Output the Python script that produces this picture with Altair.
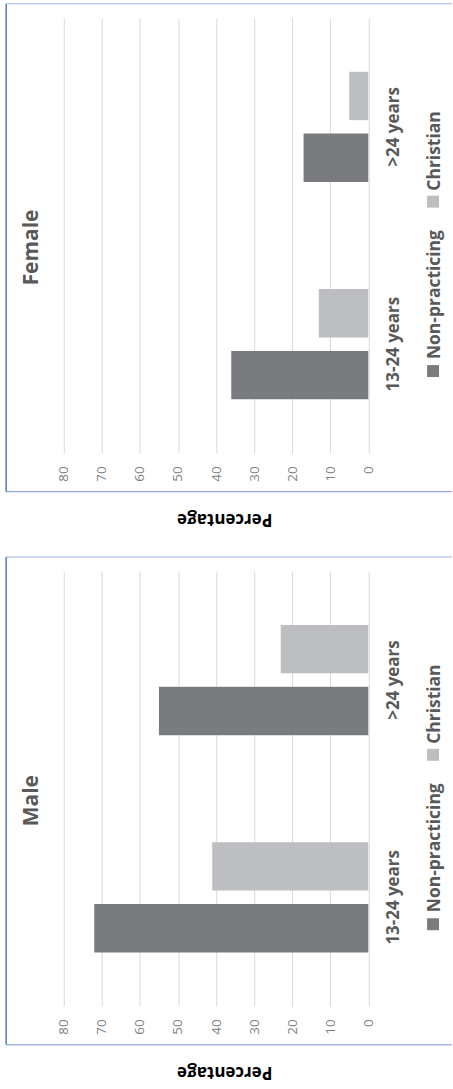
import altair as alt
import pandas as pd

# ---- data ----
categories = ["13-24 years", ">24 years"]
series = ["Non-practicing", "Christian"]
female_nonpracticing = [36, 17]
female_christian = [13, 5]
male_nonpracticing = [72, 55]
male_christian = [41, 23]
tick_values = [0, 10, 20, 30, 40, 50, 60, 70, 80]

DARK = "#7a7b7f"
LIGHT = "#bdbec1"
TEXT = "#595959"
TICK = "#7f7f7f"
GRID = "#d9d9d9"
FONT = "Open Sans"

W, H = 305.5, 436


def long_df(np_vals, chr_vals):
    rows = []
    for c, a, b in zip(categories, np_vals, chr_vals):
        rows.append({"age": c, "series": series[0], "value": a})
        rows.append({"age": c, "series": series[1], "value": b})
    return pd.DataFrame(rows)


def panel(title, np_vals, chr_vals):
    df = long_df(np_vals, chr_vals)
    bars = alt.Chart(df).mark_bar().encode(
        x=alt.X("value:Q",
                scale=alt.Scale(domain=[0, 80], reverse=True, nice=False, zero=True),
                axis=alt.Axis(values=tick_values, title=None, orient="bottom",
                              labelAngle=270, labelAlign="right", labelBaseline="middle",
                              labelPadding=13, labelFontSize=13.5, labelColor=TICK,
                              labelFont=FONT, grid=True, gridColor=GRID, gridWidth=1,
                              domain=False, ticks=False, tickSize=0)),
        y=alt.Y("age:N", sort=[">24 years", "13-24 years"],
                scale=alt.Scale(paddingInner=0.493, paddingOuter=0.2465),
                axis=alt.Axis(orient="right", title=None, labelAngle=270,
                              labelAlign="center", labelBaseline="top",
                              labelPadding=17, labelFontSize=17, labelFontWeight="bold",
                              labelColor=TEXT, labelFont=FONT, domain=False,
                              ticks=False, tickSize=0, grid=False)),
        yOffset=alt.YOffset("series:N", sort=["Christian", "Non-practicing"],
                            scale=alt.Scale(paddingInner=0.218, paddingOuter=0)),
        color=alt.Color("series:N", scale=alt.Scale(domain=series, range=[DARK, LIGHT]),
                        legend=None),
    )

    one = pd.DataFrame({"t": [title]})
    title_txt = alt.Chart(one).mark_text(
        angle=270, align="center", baseline="middle", font=FONT, fontSize=21,
        fontWeight="bold", color=TEXT
    ).encode(x=alt.value(-31.5), y=alt.value(230), text="t:N")

    pct = alt.Chart(pd.DataFrame({"t": ["Percentage"]})).mark_text(
        angle=180, align="center", baseline="middle", font=FONT, fontSize=17,
        fontWeight="bold", color="#000000"
    ).encode(x=alt.value(161.5), y=alt.value(502), text="t:N")

    # legend (drawn manually because the whole chart is rotated)
    leg_df = pd.DataFrame({"series": series})
    sw_np = alt.Chart(leg_df.iloc[[0]]).mark_rect(color=DARK).encode(
        x=alt.value(364.5), x2=alt.value(376.5), y=alt.value(348), y2=alt.value(360))
    sw_ch = alt.Chart(leg_df.iloc[[1]]).mark_rect(color=LIGHT).encode(
        x=alt.value(364.5), x2=alt.value(376.5), y=alt.value(178), y2=alt.value(190))
    lt_np = alt.Chart(leg_df.iloc[[0]]).mark_text(
        angle=270, align="left", baseline="middle", font=FONT, fontSize=17.5,
        fontWeight="bold", color=TEXT).encode(
        x=alt.value(372), y=alt.value(342), text="series:N")
    lt_ch = alt.Chart(leg_df.iloc[[1]]).mark_text(
        angle=270, align="left", baseline="middle", font=FONT, fontSize=17.5,
        fontWeight="bold", color=TEXT).encode(
        x=alt.value(372), y=alt.value(173), text="series:N")

    # panel frame (left, top, bottom edges; right edge lies outside the picture)
    b = pd.DataFrame({"k": [0]})
    left = alt.Chart(b).mark_rule(color="#4f76c6", strokeWidth=1.5).encode(
        x=alt.value(-57.8), y=alt.value(-14.5), y2=alt.value(475))
    top = alt.Chart(b).mark_rule(color="#9fb5e4", strokeWidth=1).encode(
        x=alt.value(-57.8), x2=alt.value(389.5), y=alt.value(-14.5))
    bottom = alt.Chart(b).mark_rule(color="#7394d8", strokeWidth=1).encode(
        x=alt.value(-57.8), x2=alt.value(389.5), y=alt.value(475))

    return alt.layer(bars, title_txt, pct, sw_np, sw_ch, lt_np, lt_ch,
                     left, top, bottom).properties(width=W, height=H)


female = panel("Female", female_nonpracticing, female_christian)
male = panel("Male", male_nonpracticing, male_christian)

chart = alt.vconcat(female, male, spacing=119).properties(
    bounds="flush",
    padding={"left": 5, "top": 0.5, "right": 0, "bottom": 6},
    background="white",
).configure_view(stroke=None)

chart.save("out.html", embed_options={"renderer": "svg", "actions": False})
